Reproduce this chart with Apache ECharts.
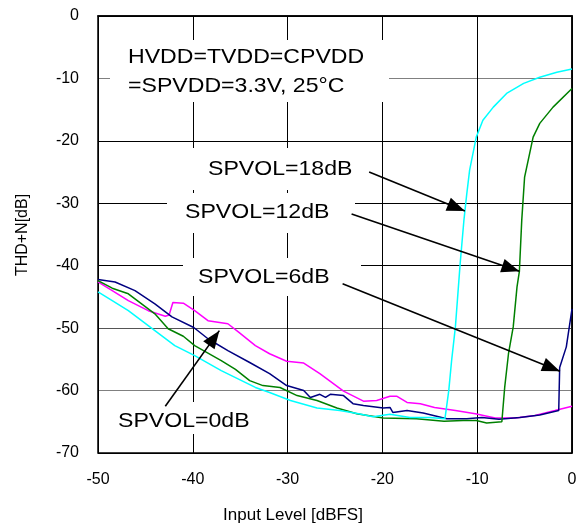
<!DOCTYPE html>
<html>
<head>
<meta charset="utf-8">
<script src="https://cdn.jsdelivr.net/npm/echarts@6/dist/echarts.min.js"></script>
<style>
  html, body { margin: 0; padding: 0; background: #fff; }
  #chart { width: 587px; height: 525px; }
</style>
</head>
<body>
<div id="chart"></div>
<script>
// axis ticks
var xTicks = [-50, -40, -30, -20, -10, 0];
var yTicks = [-70, -60, -50, -40, -30, -20, -10, 0];

// SPVOL=18dB (cyan)
var vol18X = [-50, -48.5, -46.8, -44.0, -41.9, -39.8, -37.0, -33.4, -31.9, -29.7, -26.9, -24.5, -22.5, -21.0, -19.2, -17.1, -15.0, -13.4, -13.0, -12.7, -12.3, -11.8, -11.4, -11.1, -10.8, -10.1, -9.4, -8.3, -6.9, -5.1, -3.4, -1.6, 0];
var vol18Y = [-44.2, -45.6, -47.2, -50.4, -52.8, -54.4, -56.8, -59.5, -60.3, -61.6, -62.8, -63.2, -63.7, -64.2, -63.8, -64.3, -64.3, -64.5, -60.0, -55.2, -49.8, -39.7, -32.7, -28.5, -24.7, -19.4, -16.7, -14.6, -12.4, -10.8, -9.8, -9.0, -8.5];

// SPVOL=12dB (green)
var vol12X = [-50, -48.5, -46.8, -44.0, -42.6, -41.0, -39.8, -37.0, -35.5, -34.0, -32.6, -30.8, -29.0, -26.9, -24.8, -22.7, -19.9, -16.4, -13.5, -11.5, -10.1, -9.0, -7.4, -7.1, -6.7, -6.2, -5.8, -5.55, -5.3, -5.0, -4.1, -3.4, -2.0, 0];
var vol12Y = [-42.4, -43.6, -44.5, -47.7, -50.1, -51.3, -52.8, -55.2, -56.6, -58.4, -59.2, -59.5, -60.8, -61.6, -62.8, -63.7, -64.4, -64.5, -64.9, -64.8, -64.8, -65.2, -65.0, -59.5, -54.1, -49.8, -43.4, -40.9, -32.7, -25.8, -19.4, -17.2, -14.6, -11.6];

// SPVOL=6dB (navy)
var vol6X = [-50, -48.2, -46.1, -44.0, -42.2, -39.9, -38.4, -36.3, -34.0, -31.9, -30.1, -28.3, -27.6, -26.6, -26.0, -25.5, -24.1, -23.1, -22.0, -19.9, -19.2, -18.9, -17.4, -15.7, -13.2, -11.1, -9.5, -7.7, -5.5, -3.4, -1.4, -1.3, -0.6, 0];
var vol6Y = [-42.2, -42.6, -44.0, -46.1, -48.2, -49.9, -51.7, -53.6, -55.5, -57.3, -59.2, -60.0, -61.1, -60.6, -61.1, -60.6, -60.8, -62.1, -62.4, -62.8, -62.7, -63.5, -63.2, -63.6, -64.5, -64.5, -64.3, -64.6, -64.3, -63.9, -63.2, -56.3, -53.0, -46.9];

// SPVOL=0dB (magenta)
var vol0X = [-50, -48.5, -46.8, -44.7, -42.9, -42.5, -42.1, -41.0, -39.8, -38.4, -36.3, -35.2, -33.4, -31.9, -30.1, -28.3, -26.6, -24.1, -22.0, -20.6, -19.2, -18.5, -17.4, -16.0, -14.5, -12.3, -10.2, -8.1, -6.0, -3.9, -1.8, 0];
var vol0Y = [-42.6, -44.0, -45.6, -47.2, -48.1, -47.9, -45.9, -46.0, -47.2, -48.8, -49.3, -50.6, -52.8, -54.1, -55.3, -55.6, -57.3, -60.1, -61.7, -61.6, -60.9, -60.9, -61.9, -62.1, -62.7, -63.2, -63.7, -64.4, -64.4, -64.0, -63.2, -62.5];

// arrows: [fromX, fromY, toX, toY]
var arrows = [
  [-21.4, -25.0, -11.3, -31.25],
  [-23.25, -31.7, -5.55, -40.9],
  [-24.2, -42.9, -1.27, -56.9],
  [-42.9, -62.5, -37.2, -50.4]
];

function pairs(xs, ys) {
  return xs.map(function (x, i) { return [x, ys[i]]; });
}

var chart = echarts.init(document.getElementById('chart'));

var labelFont = { color: '#000', fontSize: 16, fontFamily: 'Liberation Sans, Arial' };
var noteFont = '21px "Liberation Sans", Arial';

function note(text, x, cy) {
  return {
    type: 'text', x: x, y: cy, z: 1, scaleX: 1.1,
    style: { text: text, font: noteFont, fill: '#000', verticalAlign: 'middle' }
  };
}
function box(x1, y1, x2, y2) {
  return { type: 'rect', z: 1, shape: { x: x1, y: y1, width: x2 - x1, height: y2 - y1 }, style: { fill: '#fff' } };
}

var line = function (name, data, color) {
  return {
    name: name, type: 'line', data: data, showSymbol: false, z: 3,
    lineStyle: { color: color, width: 1.5 }, itemStyle: { color: color }
  };
};

// arrow head: tip at the end coordinate (offset back by half its length)
var arrowSeries = line('arrows', [], '#000');
arrowSeries.markLine = {
  silent: true,
  symbol: ['none', 'path://M0,0 L7,18 L-7,18 Z'],
  symbolSize: [14, 18],
  symbolOffset: [0, [0, 9]],
  label: { show: false },
  lineStyle: { color: '#000', width: 1.6, type: 'solid' },
  data: arrows.map(function (a) {
    return [{ coord: [a[0], a[1]] }, { coord: [a[2], a[3]] }];
  })
};

chart.setOption({
  animation: false,
  backgroundColor: '#fff',
  grid: { left: 98, right: 15, top: 16, bottom: 72, show: true, borderColor: '#000', borderWidth: 1.5 },
  xAxis: {
    type: 'value', min: xTicks[0], max: xTicks[xTicks.length - 1], interval: 10,
    axisLine: { lineStyle: { color: '#000', width: 1.5 } },
    axisTick: { show: false },
    axisLabel: Object.assign({ margin: 19 }, labelFont),
    splitLine: { show: true, lineStyle: { color: '#000', width: 1 } }
  },
  yAxis: {
    type: 'value', min: yTicks[0], max: yTicks[yTicks.length - 1], interval: 10,
    axisLine: { show: true, lineStyle: { color: '#000', width: 1.5 } },
    axisTick: { show: false },
    axisLabel: Object.assign({ margin: 19 }, labelFont),
    splitLine: { show: true, lineStyle: { color: ['#000', '#808080', '#555', '#000', '#000', '#000', '#808080', '#000'], width: 1 } }
  },
  graphic: [
    box(110, 40, 389, 102),
    box(190, 148, 370, 190),
    box(167, 193, 355, 233),
    box(183, 258, 361, 296),
    box(108, 402, 263, 434),
    note('HVDD=TVDD=CPVDD', 128, 57),
    note('=SPVDD=3.3V, 25°C', 128, 86),
    note('SPVOL=18dB', 208, 169),
    note('SPVOL=12dB', 185, 212),
    note('SPVOL=6dB', 198, 277),
    note('SPVOL=0dB', 118, 421),
    {
      type: 'text', x: 293, y: 515, z: 1,
      style: { text: 'Input Level [dBFS]', font: '17px "Liberation Sans", Arial', fill: '#000', align: 'center', verticalAlign: 'middle' }
    },
    {
      type: 'text', x: 23, y: 235, z: 1, rotation: Math.PI / 2,
      style: { text: 'THD+N[dB]', font: '16px "Liberation Sans", Arial', fill: '#000', align: 'center', verticalAlign: 'middle' }
    }
  ],
  series: [
    line('SPVOL=0dB', pairs(vol0X, vol0Y), '#ff00ff'),
    line('SPVOL=6dB', pairs(vol6X, vol6Y), '#000080'),
    line('SPVOL=12dB', pairs(vol12X, vol12Y), '#008000'),
    line('SPVOL=18dB', pairs(vol18X, vol18Y), '#00ffff'),
    arrowSeries
  ]
});
</script>
</body>
</html>
